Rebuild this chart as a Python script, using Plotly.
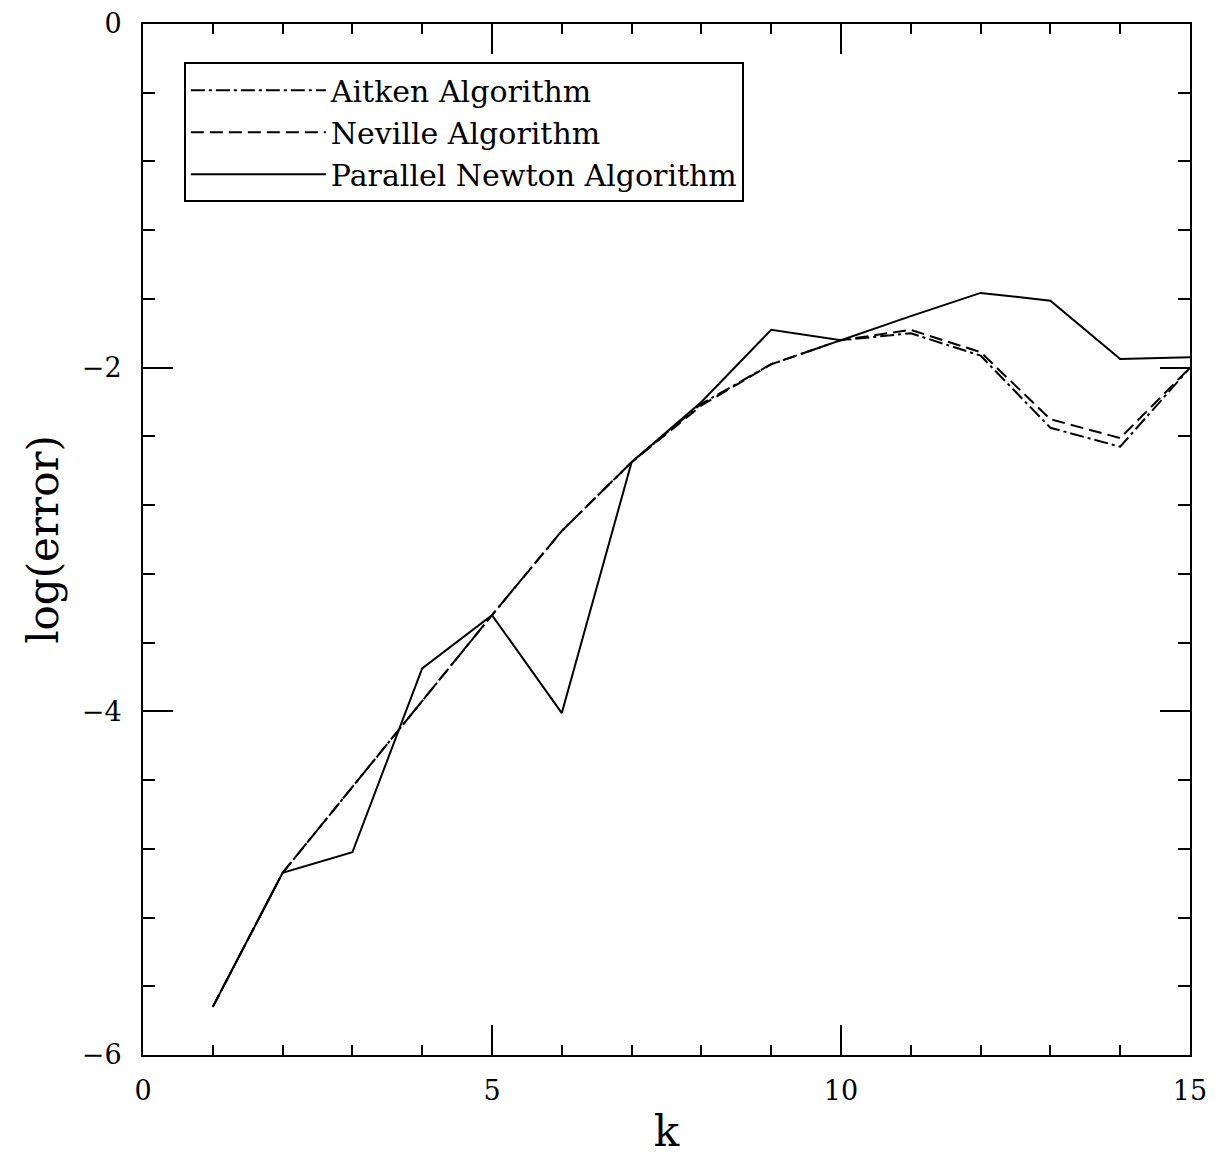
import plotly.graph_objects as go

k = list(range(1, 16))
aitken = [-5.72, -4.94, -4.44, -3.94, -3.44, -2.95, -2.55, -2.21, -1.98, -1.84, -1.80, -1.93, -2.35, -2.46, -2.00]
neville = [-5.72, -4.94, -4.44, -3.94, -3.44, -2.95, -2.55, -2.22, -1.98, -1.84, -1.78, -1.91, -2.30, -2.41, -2.00]
newton = [-5.72, -4.94, -4.82, -3.75, -3.44, -4.01, -2.55, -2.20, -1.78, -1.84, -1.70, -1.565, -1.61, -1.95, -1.94]

names = ["Aitken Algorithm", "Neville Algorithm", "Parallel Newton Algorithm"]
FONT = "DejaVu Serif"

fig = go.Figure()
fig.add_trace(go.Scatter(x=k, y=aitken, mode="lines", name=names[0],
                         line=dict(color="black", width=2, dash="14px,4px,3px,4px")))
fig.add_trace(go.Scatter(x=k, y=neville, mode="lines", name=names[1],
                         line=dict(color="black", width=2, dash="13px,6px")))
fig.add_trace(go.Scatter(x=k, y=newton, mode="lines", name=names[2],
                         line=dict(color="black", width=2)))

axis_common = dict(
    showgrid=False, zeroline=False, showline=True, linecolor="black", linewidth=2,
    mirror="ticks", ticks="inside", ticklen=30, tickwidth=1.5, tickcolor="black",
    tickfont=dict(family=FONT, size=27, color="black"),
    ticklabeloverflow="allow", automargin=False,
)

fig.update_xaxes(range=[0, 15], tickvals=[0, 5, 10, 15], ticklabelstandoff=11,
                 minor=dict(dtick=1, ticks="inside", ticklen=10, tickwidth=1.5, tickcolor="black"),
                 title=dict(text="k", font=dict(family=FONT, size=42, color="black"), standoff=12),
                 **axis_common)
fig.update_yaxes(range=[-6, 0], tickvals=[-6, -4, -2, 0], ticklabelstandoff=14,
                 minor=dict(dtick=0.4, ticks="inside", ticklen=12, tickwidth=1.5, tickcolor="black"),
                 title=dict(text="log(error)", font=dict(family=FONT, size=42, color="black"), standoff=10),
                 **axis_common)

fig.update_layout(
    width=1211, height=1148,
    margin=dict(l=135, r=29, t=16, b=101),
    paper_bgcolor="white", plot_bgcolor="white",
    showlegend=True,
    legend=dict(x=0.039, y=0.963, xanchor="left", yanchor="top",
                bgcolor="white", bordercolor="black", borderwidth=2,
                font=dict(family=FONT, size=30, color="black"),
                itemwidth=135, tracegroupgap=0),
)

fig.write_html("out.html")
